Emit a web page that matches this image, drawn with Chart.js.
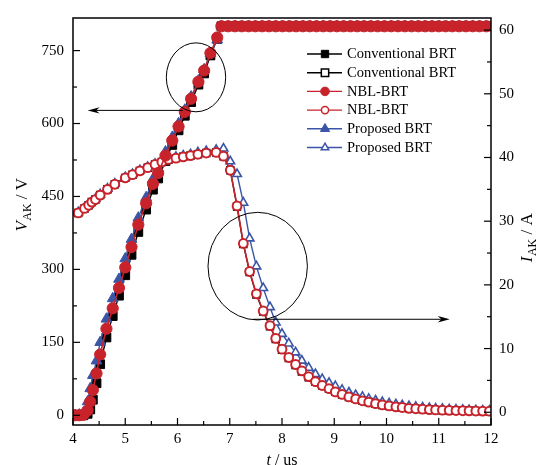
<!DOCTYPE html>
<html><head><meta charset="utf-8">
<script src="https://cdn.jsdelivr.net/npm/chart.js@4.4.1/dist/chart.umd.min.js"></script>
<style>html,body{margin:0;padding:0;background:#fff;}canvas{display:block;}</style>
</head><body>
<canvas id="c" width="548" height="465"></canvas>
<script>
// ---------- data ----------
const seriesNames = ['Conventional BRT','Conventional BRT','NBL-BRT','NBL-BRT','Proposed BRT','Proposed BRT'];

// anode voltage V_AK (left axis), time in us
const tV = [4.04,4.12,4.20,4.28,4.33,4.38,4.45,4.52,4.64,4.76,4.88,5.00,5.12,5.25,5.40,5.53,5.63,5.77,5.90,6.02,6.14,6.26,6.40,6.51,6.63,6.76,6.84,
  6.97,7.10,7.23,7.36,7.49,7.62,7.75,7.88,8.01,8.14,8.27,8.40,8.53,8.66,8.79,8.92,9.05,9.18,9.31,9.44,
  9.57,9.70,9.83,9.96,10.09,10.22,10.35,10.48,10.61,10.74,10.87,11.00,11.13,11.26,11.39,11.52,11.65,11.78,11.91,12.04];
const vConv = [0,0,0,3,12,32,66,105,160,204,246,288,330,377,423,464,487,523,556,586,616,644,680,703,740,774,800,
  800,800,800,800,800,800,800,800,800,800,800,800,800,800,800,800,800,800,800,800,
  800,800,800,800,800,800,800,800,800,800,800,800,800,800,800,800,800,800,800,800];
const vNBL = [0,0,1,10,28,52,86,125,178,220,262,304,346,392,436,476,498,534,565,594,624,651,686,709,745,777,800,
  800,800,800,800,800,800,800,800,800,800,800,800,800,800,800,800,800,800,800,800,
  800,800,800,800,800,800,800,800,800,800,800,800,800,800,800,800,800,800,800,800];
const vProp = [0,1,5,28,55,82,112,150,198,240,280,322,362,406,448,486,508,542,572,600,628,655,688,711,744,772,800,
  800,800,800,800,800,800,800,800,800,800,800,800,800,800,800,800,800,800,800,800,
  800,800,800,800,800,800,800,800,800,800,800,800,800,800,800,800,800,800,800,800];

// anode current I_AK (right axis), time in us
const tI = [4.10,4.22,4.30,4.36,4.43,4.52,4.66,4.80,5.00,5.14,5.28,5.43,5.57,5.70,5.83,5.97,6.11,6.25,6.39,6.55,6.74,6.88,
  7.01,7.14,7.26,7.38,7.51,7.64,7.77,7.88,8.00,8.13,8.26,8.38,8.51,8.64,8.77,8.90,9.02,9.15,9.28,9.41,9.54,9.66,9.79,9.92,
  10.05,10.18,10.30,10.43,10.56,10.69,10.82,10.94,11.07,11.20,11.33,11.46,11.58,11.71,11.84,11.97];
const iConv = [31.3,32.0,32.5,33.0,33.4,34.1,35.0,35.8,36.8,37.3,37.9,38.4,38.9,39.3,39.7,39.9,40.1,40.3,40.5,40.7,40.8,40.2,
  38.0,32.3,26.4,22.0,18.5,15.8,13.5,11.5,9.8,8.5,7.4,6.4,5.5,4.8,4.2,3.7,3.2,2.8,2.4,2.1,1.8,1.6,1.35,1.15,
  1.0,0.85,0.75,0.62,0.55,0.48,0.42,0.37,0.33,0.30,0.27,0.24,0.22,0.20,0.18,0.17];
const iNBL = [31.3,32.0,32.5,33.0,33.4,34.1,35.0,35.8,36.8,37.3,37.9,38.4,38.9,39.3,39.7,39.9,40.1,40.3,40.5,40.7,40.8,40.2,
  38.0,32.4,26.5,22.1,18.6,15.9,13.6,11.6,9.9,8.6,7.5,6.5,5.6,4.8,4.2,3.7,3.2,2.8,2.4,2.1,1.8,1.6,1.35,1.15,
  1.0,0.85,0.75,0.62,0.55,0.48,0.42,0.37,0.33,0.30,0.27,0.24,0.22,0.20,0.18,0.17];
const iProp = [31.4,32.1,32.6,33.1,33.5,34.2,35.1,35.9,36.9,37.4,38.0,38.5,39.0,39.4,39.8,40.1,40.3,40.5,40.8,41.0,41.2,41.4,
  39.4,37.4,32.9,27.3,22.9,19.5,16.5,14.1,12.3,10.8,9.4,8.1,7.0,6.0,5.2,4.6,4.1,3.5,3.1,2.7,2.4,2.1,1.85,1.6,
  1.4,1.25,1.1,0.95,0.85,0.75,0.65,0.58,0.52,0.46,0.41,0.37,0.33,0.30,0.28,0.26];

// ticks
const xTicks = [4,5,6,7,8,9,10,11,12];
const xMinor = [4.5,5.5,6.5,7.5,8.5,9.5,10.5,11.5];
const vTicks = [0,150,300,450,600,750];
const vMinor = [75,225,375,525,675];
const iTicks = [0,10,20,30,40,50,60];
const iMinor = [5,15,25,35,45,55];

// ---------- styling ----------
const RED = '#C8232B', BLUE = '#3A55A6', BLACK = '#000000';
const FONT = '"Liberation Serif", "Times New Roman", serif';
const pts = (xs, ys) => xs.map((x, i) => ({x, y: ys[i]}));

const datasets = [
  {label: seriesNames[0], data: pts(tV, vConv), yAxisID: 'y', borderColor: BLACK, backgroundColor: BLACK,
   pointStyle: 'rect', pointRadius: 6.2, pointBorderWidth: 1, borderWidth: 1.4, order: 4},
  {label: seriesNames[1], data: pts(tI, iConv), yAxisID: 'y1', borderColor: BLACK, backgroundColor: '#fff',
   pointStyle: 'rect', pointRadius: 5, pointBorderWidth: 1.4, borderWidth: 1.4, order: 5},
  {label: seriesNames[2], data: pts(tV, vNBL), yAxisID: 'y', borderColor: RED, backgroundColor: RED,
   pointStyle: 'circle', pointRadius: 5.6, pointBorderWidth: 1, borderWidth: 1.6, order: 0},
  {label: seriesNames[3], data: pts(tI, iNBL), yAxisID: 'y1', borderColor: RED, backgroundColor: '#fff',
   pointStyle: 'circle', pointRadius: 4.4, pointBorderWidth: 2, borderWidth: 1.6, order: 1},
  {label: seriesNames[4], data: pts(tV, vProp), yAxisID: 'y', borderColor: BLUE, backgroundColor: BLUE,
   pointStyle: 'triangle', pointRadius: 6.2, pointBorderWidth: 1, borderWidth: 1.4, order: 2},
  {label: seriesNames[5], data: pts(tI, iProp), yAxisID: 'y1', borderColor: BLUE, backgroundColor: '#fff',
   pointStyle: 'triangle', pointRadius: 5, pointBorderWidth: 1.6, borderWidth: 1.4, order: 3}
];
datasets.forEach(d => { d.showLine = true; d.pointBackgroundColor = d.backgroundColor; d.pointBorderColor = d.borderColor; d.tension = 0; });

// ---------- annotations (in data units) ----------
const ellipses = [
  {axis: 'y', t: 6.354, v: 695, rt: 0.568, rv: 70.9},
  {axis: 'y1', t: 7.535, v: 22.94, rt: 0.951, rv: 8.45}
];
const arrows = [
  {axis: 'y', v: 627, from: 6.10, to: 4.28},
  {axis: 'y1', v: 14.6, from: 7.45, to: 11.21}
];

function markerPath(ctx, style, r, x, y) {
  ctx.beginPath();
  if (style === 'circle') ctx.arc(x, y, r, 0, Math.PI * 2);
  else if (style === 'rect') { const s = Math.SQRT1_2 * r; ctx.rect(x - s, y - s, 2 * s, 2 * s); }
  else if (style === 'triangle') {
    let a = 0;
    ctx.moveTo(x + Math.sin(a) * r, y - Math.cos(a) * r);
    a += 2 * Math.PI / 3; ctx.lineTo(x + Math.sin(a) * r, y - Math.cos(a) * r);
    a += 2 * Math.PI / 3; ctx.lineTo(x + Math.sin(a) * r, y - Math.cos(a) * r);
    ctx.closePath();
  }
}

function titleWithSub(ctx, x, y, rot, main, sub, rest, size) {
  ctx.save();
  ctx.translate(x, y); ctx.rotate(rot);
  ctx.textBaseline = 'middle'; ctx.textAlign = 'left'; ctx.fillStyle = '#000';
  const fMain = 'italic ' + size + 'px ' + FONT, fSub = Math.round(size * 0.72) + 'px ' + FONT, fRest = size + 'px ' + FONT;
  ctx.font = fMain; const w1 = ctx.measureText(main).width;
  ctx.font = fSub; const w2 = ctx.measureText(sub).width;
  ctx.font = fRest; const w3 = ctx.measureText(rest).width;
  let s = -(w1 + w2 + w3) / 2;
  ctx.font = fMain; ctx.fillText(main, s, 0); s += w1 + 0.5;
  ctx.font = fSub; ctx.fillText(sub, s, size * 0.3); s += w2;
  ctx.font = fRest; ctx.fillText(rest, s, 0);
  ctx.restore();
}

const decor = {
  id: 'decor',
  afterDatasetsDraw(chart) {
    const ctx = chart.ctx, a = chart.chartArea;
    const sx = chart.scales.x, sy = chart.scales.y, sy1 = chart.scales.y1;
    ctx.save();
    // annotations
    ctx.strokeStyle = '#000'; ctx.fillStyle = '#000'; ctx.lineWidth = 1;
    ellipses.forEach(e => {
      const sc = chart.scales[e.axis];
      const cx = sx.getPixelForValue(e.t), cy = sc.getPixelForValue(e.v);
      const rx = Math.abs(sx.getPixelForValue(e.t + e.rt) - cx), ry = Math.abs(sc.getPixelForValue(e.v + e.rv) - cy);
      ctx.beginPath(); ctx.ellipse(cx, cy, rx, ry, 0, 0, Math.PI * 2); ctx.stroke();
    });
    arrows.forEach(r => {
      const sc = chart.scales[r.axis];
      const y = sc.getPixelForValue(r.v), x0 = sx.getPixelForValue(r.from), x1 = sx.getPixelForValue(r.to);
      const dir = Math.sign(x1 - x0), L = 12, H = 3.2;
      ctx.beginPath(); ctx.moveTo(x0, y); ctx.lineTo(x1 - dir * L * 0.6, y); ctx.stroke();
      ctx.beginPath(); ctx.moveTo(x1, y); ctx.lineTo(x1 - dir * L, y - H); ctx.lineTo(x1 - dir * L * 0.7, y); ctx.lineTo(x1 - dir * L, y + H); ctx.closePath(); ctx.fill();
    });
    // frame
    ctx.lineWidth = 1.5; ctx.strokeStyle = '#000';
    ctx.strokeRect(a.left, a.top, a.right - a.left, a.bottom - a.top);
    // inward ticks
    ctx.lineWidth = 1.2;
    const tick = (vals, scale, side, len) => vals.forEach(v => {
      const p = scale.getPixelForValue(v);
      ctx.beginPath();
      if (side === 'bottom') { ctx.moveTo(p, a.bottom); ctx.lineTo(p, a.bottom - len); }
      else if (side === 'left') { ctx.moveTo(a.left, p); ctx.lineTo(a.left + len, p); }
      else { ctx.moveTo(a.right, p); ctx.lineTo(a.right - len, p); }
      ctx.stroke();
    });
    tick(xTicks, sx, 'bottom', 7); tick(xMinor, sx, 'bottom', 4);
    tick(vTicks, sy, 'left', 7); tick(vMinor, sy, 'left', 4);
    tick(iTicks, sy1, 'right', 7); tick(iMinor, sy1, 'right', 4);
    // legend
    const lx0 = 307, lx1 = 342, mx = 325, tx = 347, ly0 = 54, dy = 18.7;
    ctx.font = '14.5px ' + FONT; ctx.textBaseline = 'middle'; ctx.textAlign = 'left';
    chart.data.datasets.forEach((d, i) => {
      const y = ly0 + i * dy;
      ctx.strokeStyle = d.borderColor; ctx.lineWidth = 1.4;
      ctx.beginPath(); ctx.moveTo(lx0, y); ctx.lineTo(lx1, y); ctx.stroke();
      const open = d.backgroundColor === '#fff';
      const r = d.pointStyle === 'rect' ? 5.2 : d.pointStyle === 'circle' ? (open ? 3.6 : 4.3) : (open ? 4.3 : 5.3);
      markerPath(ctx, d.pointStyle, r, mx, y);
      ctx.fillStyle = d.backgroundColor; ctx.fill();
      ctx.lineWidth = open ? 1.5 : 1; ctx.strokeStyle = d.borderColor; ctx.stroke();
      ctx.fillStyle = '#000'; ctx.fillText(d.label, tx, y + 0.5);
    });
    // axis titles
    titleWithSub(ctx, 23, 205, -Math.PI / 2, 'V', 'AK', ' / V', 17);
    titleWithSub(ctx, 528, 238, -Math.PI / 2, 'I', 'AK', ' / A', 17);
    ctx.font = 'italic 16px ' + FONT; ctx.textBaseline = 'middle'; ctx.textAlign = 'left'; ctx.fillStyle = '#000';
    const w1 = ctx.measureText('t').width; ctx.font = '16px ' + FONT; const w2 = ctx.measureText(' / us').width;
    const xs = (a.left + a.right) / 2 - (w1 + w2) / 2;
    ctx.font = 'italic 16px ' + FONT; ctx.fillText('t', xs, 461);
    ctx.font = '16px ' + FONT; ctx.fillText(' / us', xs + w1, 461);
    ctx.restore();
  }
};

const tickFont = {family: FONT, size: 15};
new Chart(document.getElementById('c'), {
  type: 'scatter',
  data: {datasets},
  options: {
    responsive: false, animation: false, devicePixelRatio: 1,
    layout: {padding: {top: 15, left: 0, right: 0, bottom: 0}},
    plugins: {legend: {display: false}, tooltip: {enabled: false}},
    scales: {
      x: {type: 'linear', min: 4, max: 12, position: 'bottom',
        grid: {display: false, drawTicks: false}, border: {display: false},
        afterBuildTicks: s => { s.ticks = xTicks.map(v => ({value: v})); },
        afterFit: s => { s.height = 40; },
        ticks: {font: tickFont, color: '#000', padding: 5, maxRotation: 0, autoSkip: false}},
      y: {type: 'linear', min: -20, max: 817, position: 'left',
        grid: {display: false, drawTicks: false}, border: {display: false},
        afterBuildTicks: s => { s.ticks = vTicks.map(v => ({value: v})); },
        afterFit: s => { s.width = 73; },
        ticks: {font: tickFont, color: '#000', padding: 9, autoSkip: false}},
      y1: {type: 'linear', min: -2, max: 61.9, position: 'right',
        grid: {display: false, drawTicks: false}, border: {display: false},
        afterBuildTicks: s => { s.ticks = iTicks.map(v => ({value: v})); },
        afterFit: s => { s.width = 57; },
        ticks: {font: tickFont, color: '#000', padding: 8, autoSkip: false}}
    }
  },
  plugins: [decor]
});
</script>
</body></html>
